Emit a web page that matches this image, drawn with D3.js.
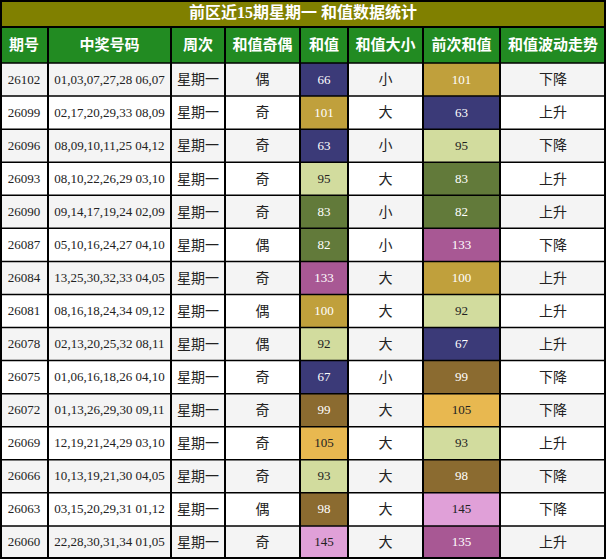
<!DOCTYPE html>
<html><head><meta charset="utf-8">
<script src="https://cdn.jsdelivr.net/npm/d3@7"></script>
<style>body{margin:0;background:#fff}</style>
</head><body><div id="mainDiv"></div>
<script>
var title = "前区近15期星期一 和值数据统计";
var headers = ["期号", "中奖号码", "周次", "和值奇偶", "和值", "和值大小", "前次和值", "和值波动走势"];
var issues = ["26102","26099","26096","26093","26090","26087","26084","26081","26078","26075","26072","26069","26066","26063","26060"];
var numbers = ["01,03,07,27,28 06,07","02,17,20,29,33 08,09","08,09,10,11,25 04,12","08,10,22,26,29 03,10","09,14,17,19,24 02,09","05,10,16,24,27 04,10","13,25,30,32,33 04,05","08,16,18,24,34 09,12","02,13,20,25,32 08,11","01,06,16,18,26 04,10","01,13,26,29,30 09,11","12,19,21,24,29 03,10","10,13,19,21,30 04,05","03,15,20,29,31 01,12","22,28,30,31,34 01,05"];
var parity = ["偶","奇","奇","奇","奇","偶","奇","偶","偶","奇","奇","奇","奇","偶","奇"];
var sums = [66,101,63,95,83,82,133,100,92,67,99,105,93,98,145];
var sizes = ["小","大","小","大","小","小","大","大","大","小","大","大","大","大","大"];
var prevSums = [101,63,95,83,82,133,100,92,67,99,105,93,98,145,135];
var trend = ["下降","上升","下降","上升","上升","下降","上升","上升","上升","下降","下降","上升","下降","下降","上升"];

var colEdges = [0,48,171,225,300,348,423,500,606];
var W = 606, H = 559, titleH = 27, headH = 36;

var cellColor = function(v) {
  if (v < 70) return ["#3b3a78", "#fff"];
  if (v < 90) return ["#627a3a", "#fff"];
  if (v < 96) return ["#d2dc9e", "#222"];
  if (v < 100) return ["#8b6b30", "#fff"];
  if (v < 104) return ["#c0a03c", "#fff"];
  if (v < 110) return ["#e8b850", "#222"];
  if (v < 140) return ["#a85894", "#fff"];
  return ["#e0a0d8", "#222"];
};

var svg = d3.select("#mainDiv").append("svg").attr("width", W).attr("height", H);
var y = d3.scaleBand().domain(d3.range(issues.length)).range([titleH + headH, H]);

svg.append("rect").attr("width", W).attr("height", titleH).attr("fill", "#808000");
svg.append("text").text(title).attr("x", W / 2).attr("y", titleH / 2 + 1)
   .attr("text-anchor", "middle").attr("dominant-baseline", "middle")
   .attr("fill", "#fff").attr("font-weight", "bold").attr("font-size", 16)
   .attr("font-family", "Liberation Serif, Noto Sans CJK SC");

svg.append("rect").attr("y", titleH).attr("width", W).attr("height", headH).attr("fill", "#228b22");
headers.forEach(function(h, j) {
  svg.append("text").text(h).attr("x", (colEdges[j] + colEdges[j + 1]) / 2).attr("y", titleH + headH / 2 + 1)
     .attr("text-anchor", "middle").attr("dominant-baseline", "middle")
     .attr("fill", "#fff").attr("font-weight", "bold").attr("font-size", 15)
     .attr("font-family", "Noto Sans CJK SC");
});

issues.forEach(function(d, i) {
  var row = [d, numbers[i], "星期一", parity[i], sums[i], sizes[i], prevSums[i], trend[i]];
  var y0 = y(i), h = y.bandwidth();
  svg.append("rect").attr("y", y0).attr("width", W).attr("height", h).attr("fill", i % 2 ? "#fff" : "#f4f4f4");
  row.forEach(function(v, j) {
    var fg = "#222";
    if (j == 4 || j == 6) {
      var c = cellColor(v);
      fg = c[1];
      svg.append("rect").attr("x", colEdges[j]).attr("y", y0).attr("width", colEdges[j + 1] - colEdges[j])
         .attr("height", h).attr("fill", c[0]);
    }
    var isCjk = /[^\d,\s]/.test(String(v));
    svg.append("text").text(v).attr("x", (colEdges[j] + colEdges[j + 1]) / 2).attr("y", y0 + h / 2 + 1)
       .attr("text-anchor", "middle").attr("dominant-baseline", "middle")
       .attr("fill", fg).attr("font-size", isCjk ? 14 : 13)
       .attr("font-family", isCjk ? "Noto Sans CJK SC" : "Liberation Serif");
  });
});

// grid lines
for (var i = 0; i <= issues.length; i++) {
  svg.append("line").attr("x1", 0).attr("x2", W).attr("y1", y(i) || H).attr("y2", y(i) || H)
     .attr("stroke", "#000").attr("stroke-width", 1.5);
}
svg.append("line").attr("x1", 0).attr("x2", W).attr("y1", titleH).attr("y2", titleH).attr("stroke", "#000").attr("stroke-width", 2);
colEdges.forEach(function(x, j) {
  svg.append("line").attr("x1", x).attr("x2", x).attr("y1", (j == 0 || j == 8) ? 0 : titleH).attr("y2", H)
     .attr("stroke", "#000").attr("stroke-width", 2);
});
svg.append("rect").attr("x", 1).attr("y", 1).attr("width", W - 2).attr("height", H - 2)
   .attr("fill", "none").attr("stroke", "#000").attr("stroke-width", 2);
</script></body></html>
